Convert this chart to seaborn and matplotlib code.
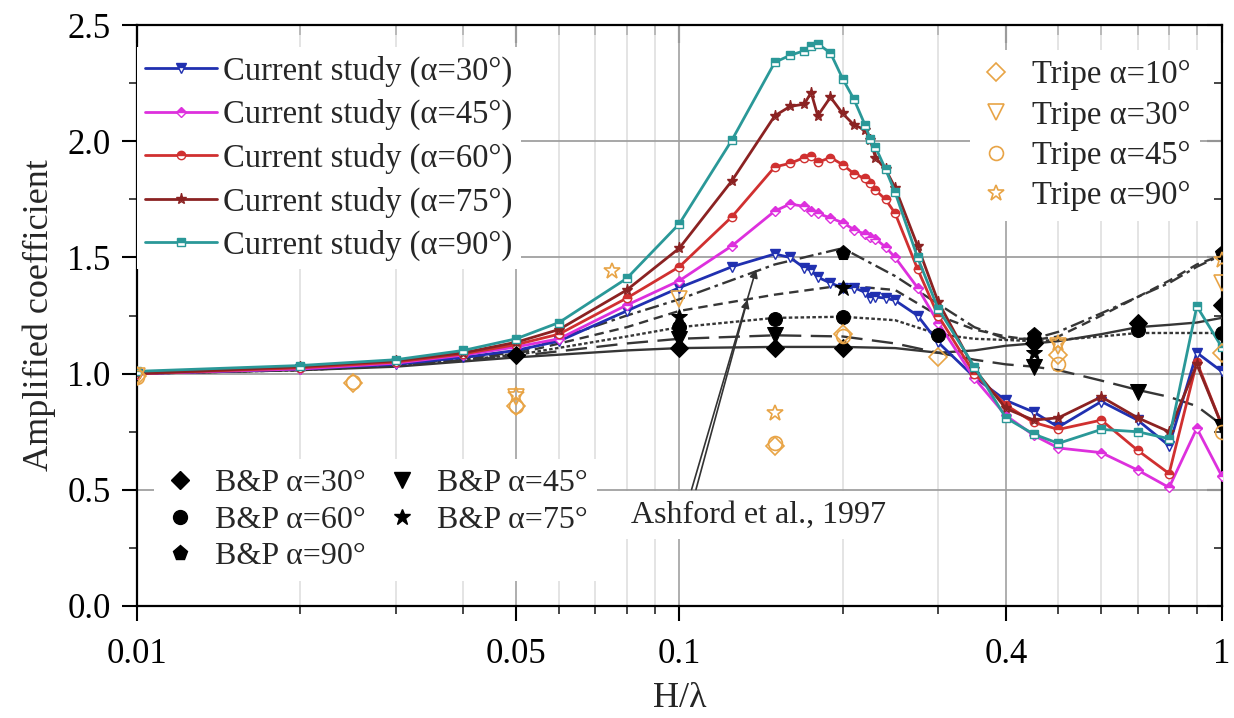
import matplotlib
matplotlib.use("Agg")
import numpy as np
import matplotlib.pyplot as plt
from matplotlib.lines import Line2D
from matplotlib.ticker import FixedLocator, FixedFormatter, NullFormatter
import seaborn as sns

# ---- current study (H/lambda vs amplified coefficient) ----
x_cs = [0.01, 0.02, 0.03, 0.04, 0.05, 0.06, 0.08, 0.1, 0.125, 0.15, 0.16, 0.17, 0.175,
        0.18, 0.19, 0.2, 0.21, 0.22, 0.225, 0.23, 0.24, 0.25, 0.275, 0.3, 0.35, 0.4,
        0.45, 0.5, 0.6, 0.7, 0.8, 0.9, 1.0]
cs30 = [1.00, 1.02, 1.04, 1.07, 1.10, 1.14, 1.27, 1.37, 1.46, 1.515, 1.50, 1.455, 1.445,
        1.415, 1.39, 1.37, 1.37, 1.35, 1.325, 1.33, 1.325, 1.315, 1.25, 1.135, 0.985, 0.885,
        0.835, 0.77, 0.88, 0.80, 0.69, 1.09, 1.01]
cs45 = [1.00, 1.02, 1.045, 1.08, 1.115, 1.15, 1.295, 1.40, 1.55, 1.70, 1.73, 1.72, 1.70,
        1.69, 1.67, 1.65, 1.62, 1.60, 1.59, 1.58, 1.545, 1.50, 1.37, 1.22, 0.98, 0.82,
        0.735, 0.68, 0.66, 0.585, 0.51, 0.765, 0.56]
cs60 = [1.00, 1.025, 1.05, 1.085, 1.125, 1.17, 1.325, 1.46, 1.675, 1.89, 1.905, 1.93, 1.935,
        1.91, 1.93, 1.90, 1.86, 1.84, 1.82, 1.79, 1.75, 1.69, 1.45, 1.25, 1.00, 0.865,
        0.79, 0.76, 0.80, 0.67, 0.57, 1.05, 0.78]
cs75 = [1.00, 1.03, 1.055, 1.09, 1.135, 1.19, 1.36, 1.54, 1.83, 2.11, 2.15, 2.16, 2.21,
        2.11, 2.19, 2.12, 2.07, 2.05, 2.005, 1.93, 1.88, 1.80, 1.55, 1.31, 1.02, 0.85,
        0.80, 0.81, 0.90, 0.81, 0.75, 1.04, 0.78]
cs90 = [1.01, 1.035, 1.06, 1.10, 1.15, 1.22, 1.41, 1.645, 2.005, 2.34, 2.37, 2.39, 2.41,
        2.42, 2.38, 2.27, 2.18, 2.07, 2.01, 1.975, 1.88, 1.78, 1.50, 1.28, 1.03, 0.81,
        0.74, 0.70, 0.76, 0.75, 0.72, 1.29, 1.115]

# ---- Ashford et al., 1997 curves ----
x_ash = [0.01, 0.02, 0.03, 0.05, 0.08, 0.1, 0.15, 0.2, 0.25, 0.3, 0.35, 0.4, 0.45, 0.5,
         0.6, 0.7, 0.8, 0.9, 1.0]
ash30 = [1.00, 1.015, 1.03, 1.07, 1.10, 1.11, 1.115, 1.115, 1.11, 1.09, 1.10, 1.12, 1.13,
         1.14, 1.17, 1.20, 1.21, 1.22, 1.24]
ash45 = [1.00, 1.015, 1.035, 1.075, 1.13, 1.15, 1.165, 1.16, 1.13, 1.09, 1.06, 1.04, 1.03,
         1.015, 0.97, 0.93, 0.90, 0.86, 0.78]
ash60 = [1.00, 1.015, 1.035, 1.08, 1.16, 1.20, 1.24, 1.245, 1.23, 1.17, 1.15, 1.145, 1.14,
         1.145, 1.16, 1.175, 1.175, 1.175, 1.175]
ash75 = [1.00, 1.02, 1.04, 1.085, 1.20, 1.27, 1.34, 1.38, 1.36, 1.25, 1.19, 1.16, 1.145,
         1.16, 1.25, 1.33, 1.40, 1.47, 1.51]
ash90 = [1.00, 1.02, 1.045, 1.09, 1.25, 1.32, 1.47, 1.54, 1.42, 1.30, 1.20, 1.15, 1.15,
         1.18, 1.26, 1.33, 1.39, 1.46, 1.51]

# ---- B&P points ----
bp30_x = [0.05, 0.1, 0.15, 0.2, 0.45, 0.7, 1.0]
bp30_y = [1.08, 1.11, 1.11, 1.11, 1.13, 1.22, 1.295]
bp45_x = [0.1, 0.15, 0.45, 0.7, 1.0]
bp45_y = [1.15, 1.165, 1.03, 0.92, 0.77]
bp60_x = [0.1, 0.15, 0.2, 0.3, 0.45, 0.7, 1.0]
bp60_y = [1.20, 1.235, 1.245, 1.165, 1.15, 1.19, 1.175]
bp75_x = [0.1, 0.2, 0.45]
bp75_y = [1.245, 1.37, 1.09]
bp90_x = [0.2, 0.45, 1.0]
bp90_y = [1.52, 1.165, 1.52]

# ---- Tripe points ----
tr10_x = [0.01, 0.025, 0.05, 0.15, 0.2, 0.3, 0.5, 1.0]
tr10_y = [0.99, 0.96, 0.86, 0.69, 1.17, 1.07, 1.08, 1.09]
tr30_x = [0.01, 0.05, 0.1, 0.5, 1.0]
tr30_y = [0.99, 0.90, 1.32, 1.12, 1.39]
tr45_x = [0.01, 0.025, 0.05, 0.15, 0.2, 0.5, 1.0]
tr45_y = [0.985, 0.965, 0.86, 0.70, 1.16, 1.04, 0.75]
tr90_x = [0.05, 0.075, 0.15, 0.5, 1.0]
tr90_y = [0.91, 1.44, 0.83, 1.13, 1.49]

x_major = [0.01, 0.05, 0.1, 0.4, 1]
x_major_labels = ["0.01", "0.05", "0.1", "0.4", "1"]
x_minor = [0.02, 0.03, 0.04, 0.06, 0.07, 0.08, 0.09, 0.2, 0.3, 0.5, 0.6, 0.7, 0.8, 0.9]

sns.set_theme(style="ticks")
plt.rcParams['font.family'] = ['Liberation Serif', 'DejaVu Serif']

fig = plt.figure(figsize=(12.34, 7.18), dpi=100)
ax = fig.add_axes([0.111, 0.156, 0.879, 0.809])

# Ashford curves
ash_style = [(ash30, '-'), (ash45, (0, (9, 4))), (ash60, (0, (1.5, 1))),
             (ash75, (0, (4, 2.5))), (ash90, (0, (6, 2, 1.5, 2)))]
for yy, ls in ash_style:
    sns.lineplot(x=x_ash, y=yy, ax=ax, color='#363636', lw=1.7, linestyle=ls, zorder=3)

# current study
cs_style = [(cs30, '#2030b0', 'v', 7), (cs45, '#dd30dd', 'D', 5),
            (cs60, '#d03030', 'o', 6), (cs75, '#8b2222', '*', 8),
            (cs90, '#2a9898', 's', 5.5)]
for yy, c, m, ms in cs_style:
    sns.lineplot(x=x_cs, y=yy, ax=ax, color=c, lw=2.0, marker=m, markersize=ms,
                 markeredgecolor=c, markerfacecolor=c, markerfacecoloralt='white',
                 fillstyle='top', markeredgewidth=1.0, zorder=4)

# B&P markers
bp_sets = [(bp30_x, bp30_y, 'D', 9), (bp45_x, bp45_y, 'v', 11), (bp60_x, bp60_y, 'o', 10),
           (bp75_x, bp75_y, '*', 12), (bp90_x, bp90_y, 'p', 11)]
for xx, yy, m, ms in bp_sets:
    sns.lineplot(x=xx, y=yy, ax=ax, linestyle='none', marker=m, markersize=ms,
                 markerfacecolor='black', markeredgecolor='black', zorder=5)

# Tripe markers
tr_col = '#e8a446'
tr_sets = [(tr10_x, tr10_y, 'D', 9), (tr30_x, tr30_y, 'v', 11), (tr45_x, tr45_y, 'o', 10),
           (tr90_x, tr90_y, '*', 12)]
for xx, yy, m, ms in tr_sets:
    sns.lineplot(x=xx, y=yy, ax=ax, linestyle='none', marker=m, markersize=ms,
                 markerfacecolor='none', markeredgecolor=tr_col, markeredgewidth=1.2,
                 zorder=6)

ax.set_xscale('log')
ax.set_xlim(0.01, 1)
ax.set_ylim(0, 2.5)
ax.xaxis.set_major_locator(FixedLocator(x_major))
ax.xaxis.set_major_formatter(FixedFormatter(x_major_labels))
ax.xaxis.set_minor_locator(FixedLocator(x_minor))
ax.xaxis.set_minor_formatter(NullFormatter())
ax.set_yticks(np.arange(0, 2.51, 0.5))
ax.set_yticklabels([f"{v:.1f}" for v in np.arange(0, 2.51, 0.5)])
ax.yaxis.set_minor_locator(FixedLocator(np.arange(0.25, 2.5, 0.5)))

ax.grid(which='major', axis='x', color='#a8a8a8', lw=1.3, zorder=0)
ax.grid(which='minor', axis='x', color='#dcdcdc', lw=1.1, zorder=0)
ax.grid(which='major', axis='y', color='#a0a0a0', lw=1.3, zorder=0)
ax.set_axisbelow(True)

ax.tick_params(which='major', direction='out', length=11, width=1.5, labelsize=25,
               pad=8, colors='black')
ax.tick_params(which='minor', direction='out', length=6, width=1.2)
ax.tick_params(axis='x', which='major', pad=12)
for s in ax.spines.values():
    s.set_linewidth(1.6)
    s.set_color('black')

top = ax.secondary_xaxis('top')
top.xaxis.set_major_locator(FixedLocator(x_major))
top.xaxis.set_minor_locator(FixedLocator(x_minor))
top.xaxis.set_major_formatter(NullFormatter())
top.xaxis.set_minor_formatter(NullFormatter())
top.tick_params(which='major', direction='in', length=13, width=1.5)
top.tick_params(which='minor', direction='in', length=7, width=1.2)
right = ax.secondary_yaxis('right')
right.yaxis.set_major_locator(FixedLocator(np.arange(0, 2.51, 0.5)))
right.yaxis.set_minor_locator(FixedLocator(np.arange(0.25, 2.5, 0.5)))
right.yaxis.set_major_formatter(NullFormatter())
right.tick_params(which='major', direction='in', length=11, width=1.5)
right.tick_params(which='minor', direction='in', length=6, width=1.2)

ax.set_xlabel('H/λ', fontsize=26, labelpad=8)
ax.set_ylabel('Amplified coefficient', fontsize=26, labelpad=8)

# legends
h_cs = [Line2D([], [], color=c, lw=2.0, marker=m, markersize=ms, markeredgecolor=c,
               markerfacecolor=c, markerfacecoloralt='white', fillstyle='top')
        for _, c, m, ms in cs_style]
lab_cs = ['Current study (α=30°)', 'Current study (α=45°)', 'Current study (α=60°)',
          'Current study (α=75°)', 'Current study (α=90°)']
leg1 = ax.legend(h_cs, lab_cs, loc='upper left', bbox_to_anchor=(0.0, 0.962), fontsize=23.5,
                 handlelength=2.2, handletextpad=0.2, labelspacing=0.38, borderpad=0.25,
                 frameon=True, fancybox=False, framealpha=1, facecolor='white',
                 edgecolor='none', borderaxespad=0)
leg1.set_zorder(10)
ax.add_artist(leg1)

h_tr = [Line2D([], [], linestyle='none', marker=m, markersize=ms, markerfacecolor='none',
               markeredgecolor=tr_col, markeredgewidth=1.2) for _, _, m, ms in tr_sets]
lab_tr = ['Tripe α=10°', 'Tripe α=30°', 'Tripe α=45°', 'Tripe α=90°']
leg2 = ax.legend(h_tr, lab_tr, loc='upper right', bbox_to_anchor=(0.98, 0.957), fontsize=23.5,
                 handlelength=1.0, handletextpad=0.6, labelspacing=0.3, borderpad=0.3,
                 frameon=True, fancybox=False, framealpha=1, facecolor='white',
                 edgecolor='none', borderaxespad=0)
leg2.set_zorder(10)
ax.add_artist(leg2)

h_bp = [Line2D([], [], linestyle='none', marker=m, markersize=ms, markerfacecolor='black',
               markeredgecolor='black') for _, _, m, ms in bp_sets]
bp_order = [0, 2, 4, 1, 3]
lab_bp = ['B&P α=30°', 'B&P α=45°', 'B&P α=60°', 'B&P α=75°', 'B&P α=90°']
leg3 = ax.legend([h_bp[i] for i in bp_order], [lab_bp[i] for i in bp_order],
                 loc='lower left', bbox_to_anchor=(0.016, 0.043), ncol=2, fontsize=23,
                 handlelength=1.0, handletextpad=0.6, labelspacing=0.23, columnspacing=0.62,
                 borderpad=0.3, frameon=True, fancybox=False, framealpha=1,
                 facecolor='white', edgecolor='none', borderaxespad=0)
leg3.set_zorder(10)

# annotation
ax.text(0.14, 0.39, 'Ashford et al., 1997', ha='center', va='center', fontsize=23,
        bbox=dict(facecolor='white', edgecolor='none', pad=7), zorder=7)
ax.annotate('', xy=(0.139, 1.46), xytext=(0.105, 0.49),
            arrowprops=dict(arrowstyle='-|>', color='#333333', lw=1.2, mutation_scale=12),
            zorder=7)
ax.annotate('', xy=(0.134, 1.33), xytext=(0.107, 0.49),
            arrowprops=dict(arrowstyle='-|>', color='#333333', lw=1.2, mutation_scale=12),
            zorder=7)

fig.savefig('out.png', dpi=100)
